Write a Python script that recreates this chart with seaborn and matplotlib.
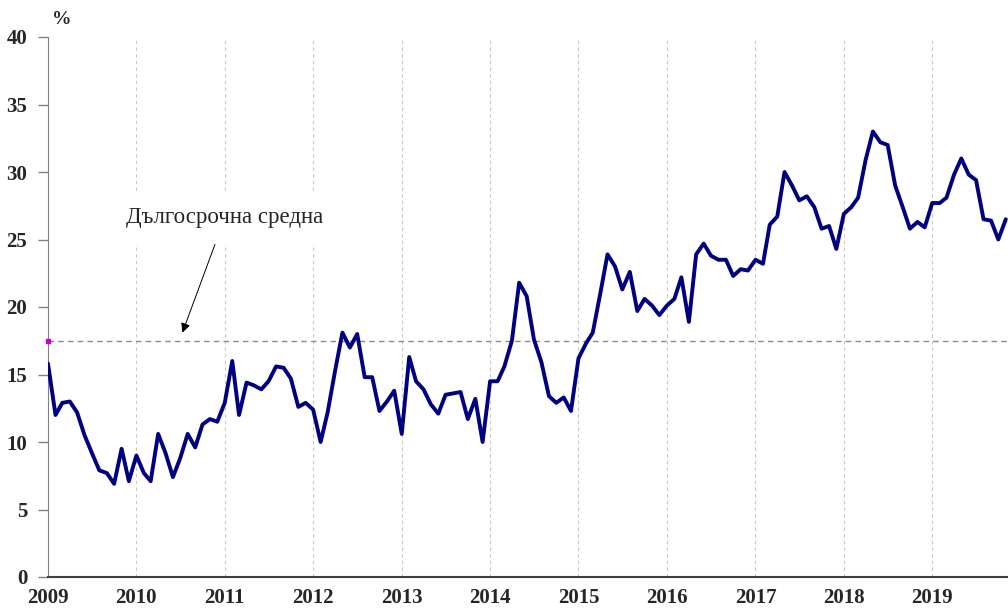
import pandas as pd
import seaborn as sns
import matplotlib.pyplot as plt

# monthly values, %, Jan 2009 - Nov 2019
v2009 = [15.8, 12.0, 12.9, 13.0, 12.2, 10.5, 9.2, 7.9, 7.7, 6.9, 9.5, 7.1]
v2010 = [9.0, 7.7, 7.1, 10.6, 9.2, 7.4, 8.8, 10.6, 9.6, 11.3, 11.7, 11.5]
v2011 = [12.9, 16.0, 12.0, 14.4, 14.2, 13.9, 14.5, 15.6, 15.5, 14.7, 12.6, 12.9]
v2012 = [12.4, 10.0, 12.2, 15.3, 18.1, 17.0, 18.0, 14.8, 14.8, 12.3, 13.0, 13.8]
v2013 = [10.6, 16.3, 14.5, 13.9, 12.8, 12.1, 13.5, 13.6, 13.7, 11.7, 13.2, 10.0]
v2014 = [14.5, 14.5, 15.6, 17.5, 21.8, 20.8, 17.6, 15.9, 13.4, 12.9, 13.3, 12.3]
v2015 = [16.2, 17.3, 18.1, 21.0, 23.9, 23.0, 21.3, 22.6, 19.7, 20.6, 20.1, 19.4]
v2016 = [20.1, 20.6, 22.2, 18.9, 23.9, 24.7, 23.8, 23.5, 23.5, 22.3, 22.8, 22.7]
v2017 = [23.5, 23.2, 26.1, 26.7, 30.0, 29.0, 27.9, 28.2, 27.4, 25.8, 26.0, 24.3]
v2018 = [26.9, 27.4, 28.1, 30.9, 33.0, 32.2, 32.0, 29.0, 27.4, 25.8, 26.3, 25.9]
v2019 = [27.7, 27.7, 28.1, 29.8, 31.0, 29.8, 29.4, 26.5, 26.4, 25.0, 26.5]

long_term_avg = 17.5
years = list(range(2009, 2020))
y_ticks = [0, 5, 10, 15, 20, 25, 30, 35, 40]

values = v2009 + v2010 + v2011 + v2012 + v2013 + v2014 + v2015 + v2016 + v2017 + v2018 + v2019
df = pd.DataFrame({
    'date': pd.date_range('2009-01-01', periods=len(values), freq='MS'),
    'value': values,
})

sns.set_style('white')
plt.rcParams['font.family'] = ['Liberation Serif', 'DejaVu Serif']

fig = plt.figure(figsize=(10.08, 6.1), dpi=100)
ax = fig.add_axes([48 / 1008, 33 / 610, 960 / 1008, 540 / 610])

year_starts = [pd.Timestamp(f'{y}-01-01') for y in years]
for d in year_starts[1:]:
    ax.axvline(d, color='#c8c8c8', lw=0.8, ls=(0, (3, 3)), zorder=0)

ax.axhline(long_term_avg, color='#8c8c8c', lw=1.0, ls=(0, (4, 3)), zorder=1)

sns.lineplot(data=df, x='date', y='value', ax=ax, color='#000080', lw=2.8, zorder=3)

ax.plot([df['date'].iloc[0]], [long_term_avg], marker='s', ms=3, color='#cc00cc',
        clip_on=False, zorder=4)

ax.annotate('Дългосрочна средна', xy=(pd.Timestamp('2010-07-10'), 18.1),
            xytext=(pd.Timestamp('2011-01-01'), 26.6), ha='center', va='center',
            fontsize=16.5,
            bbox=dict(boxstyle='square,pad=0.7', facecolor='white', edgecolor='none'),
            arrowprops=dict(arrowstyle='-|>', color='black', lw=0.7, mutation_scale=14,
                            shrinkA=0, shrinkB=0))

ax.set_xlim(pd.Timestamp('2009-01-01'), pd.Timestamp('2019-11-10'))
ax.set_ylim(0, 40)
ax.set_xticks(year_starts)
ax.set_xticklabels([str(y) for y in years], fontsize=15, fontweight='bold')
ax.set_yticks(y_ticks)
ax.set_yticklabels([str(t) for t in y_ticks], fontsize=15, fontweight='bold')
ax.tick_params(axis='y', length=7, width=1, color='#808080', pad=8, direction='out', left=True)
ax.tick_params(axis='x', length=0, pad=8)
ax.set_xlabel('')
ax.set_ylabel('')

for side in ['top', 'right']:
    ax.spines[side].set_visible(False)
ax.spines['left'].set_color('#808080')
ax.spines['bottom'].set_color('#404040')
ax.spines['bottom'].set_linewidth(1.5)

fig.text(52 / 1008, 1 - 19 / 610, '%', fontsize=14, fontweight='bold', va='center')

fig.savefig('out.png', dpi=100)
